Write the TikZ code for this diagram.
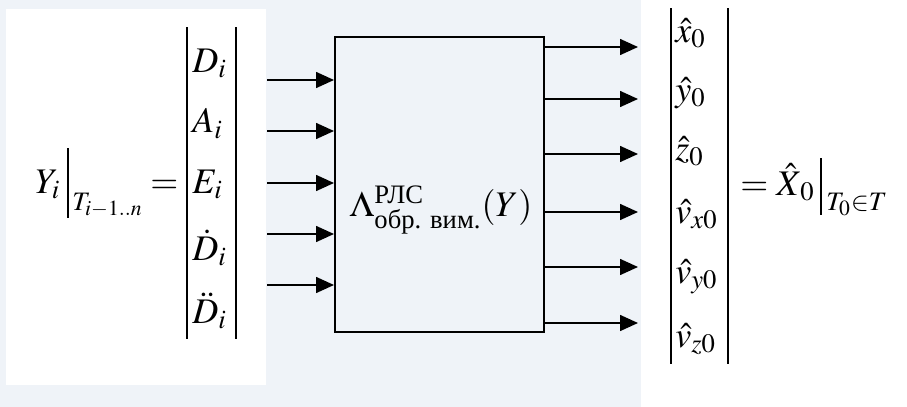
\documentclass[tikz,border=0pt]{standalone}
\usepackage{amsmath}
\usepackage{mathptmx}
\usepackage[no-math]{fontspec}
\setmainfont{Liberation Serif}
\usetikzlibrary{arrows.meta}
\definecolor{bgpanel}{RGB}{239,243,248}
\tikzset{
  eq/.style={inner sep=0pt, font=\fontsize{18}{22}\selectfont},
  vbar/.style={line width=1.1pt},
  arr/.style={line width=0.8pt, -{Triangle[length=9pt,width=8pt]}},
}
\begin{document}
\begin{tikzpicture}[x=0.5pt, y=-0.5pt]
  \useasboundingbox (0,0) rectangle (907,407);

  % Panels
  \fill[bgpanel] (0,0) rectangle (641,407);
  \fill[white] (6,9) rectangle (266,385);

  % Processing block
  \node[draw, line width=1pt, minimum width=104.5pt, minimum height=147.5pt, inner sep=0pt] (box) at (439.5,184.5) {};
  \node[eq] (lam) at (441,210) {$\Lambda^{\textrm{РЛС}}_{\textrm{обр. вим.}}(Y)$};

  % Input vector
  \node[eq, anchor=base west] (yi) at (35,193) {$Y_i$};
  \draw[vbar] (68,148) -- (68,218);
  \node[eq, anchor=base west] (tsub) at (72,210) {$\scriptstyle T_{i-1..n}$};
  \node[eq, anchor=base west] (eql) at (150,193) {$=$};
  \draw[vbar] (187,27) -- (187,339);
  \draw[vbar] (236,27) -- (236,339);
  \foreach \t/\b [count=\k] in {D_i/72, A_i/133, E_i/193, \dot{D}_i/260, \ddot{D}_i/323}
    \node[eq, anchor=base west] (in\k) at (192,\b) {$\t$};

  % Input arrows
  \foreach \yy [count=\k] in {80,131,183,234,285} {
    \coordinate (src\k) at (267,\yy);
    \draw[arr] (src\k) -- (src\k -| box.west);
  }

  % Output arrows
  \foreach \yy [count=\k] in {47,99,154,212,267,323} {
    \coordinate (dst\k) at (638,\yy);
    \draw[arr] (dst\k -| box.east) -- (dst\k);
  }

  % Output vector
  \draw[vbar] (671,8) -- (671,364);
  \draw[vbar] (728,8) -- (728,364);
  \foreach \t/\b [count=\k] in {\hat{x}_0/42, \hat{y}_0/101, \hat{z}_0/160, \hat{v}_{x0}/223, \hat{v}_{y0}/283, \hat{v}_{z0}/347}
    \node[eq, anchor=base west] (out\k) at (675,\b) {$\t$};
  \node[eq, anchor=base west] (rhs) at (740,195) {$=\hat{X}_{\,0}$};
  \draw[vbar] (821,158) -- (821,215);
  \node[eq, anchor=base west] (tset) at (826,210) {$\scriptstyle T_0\in T$};
\end{tikzpicture}
\end{document}
